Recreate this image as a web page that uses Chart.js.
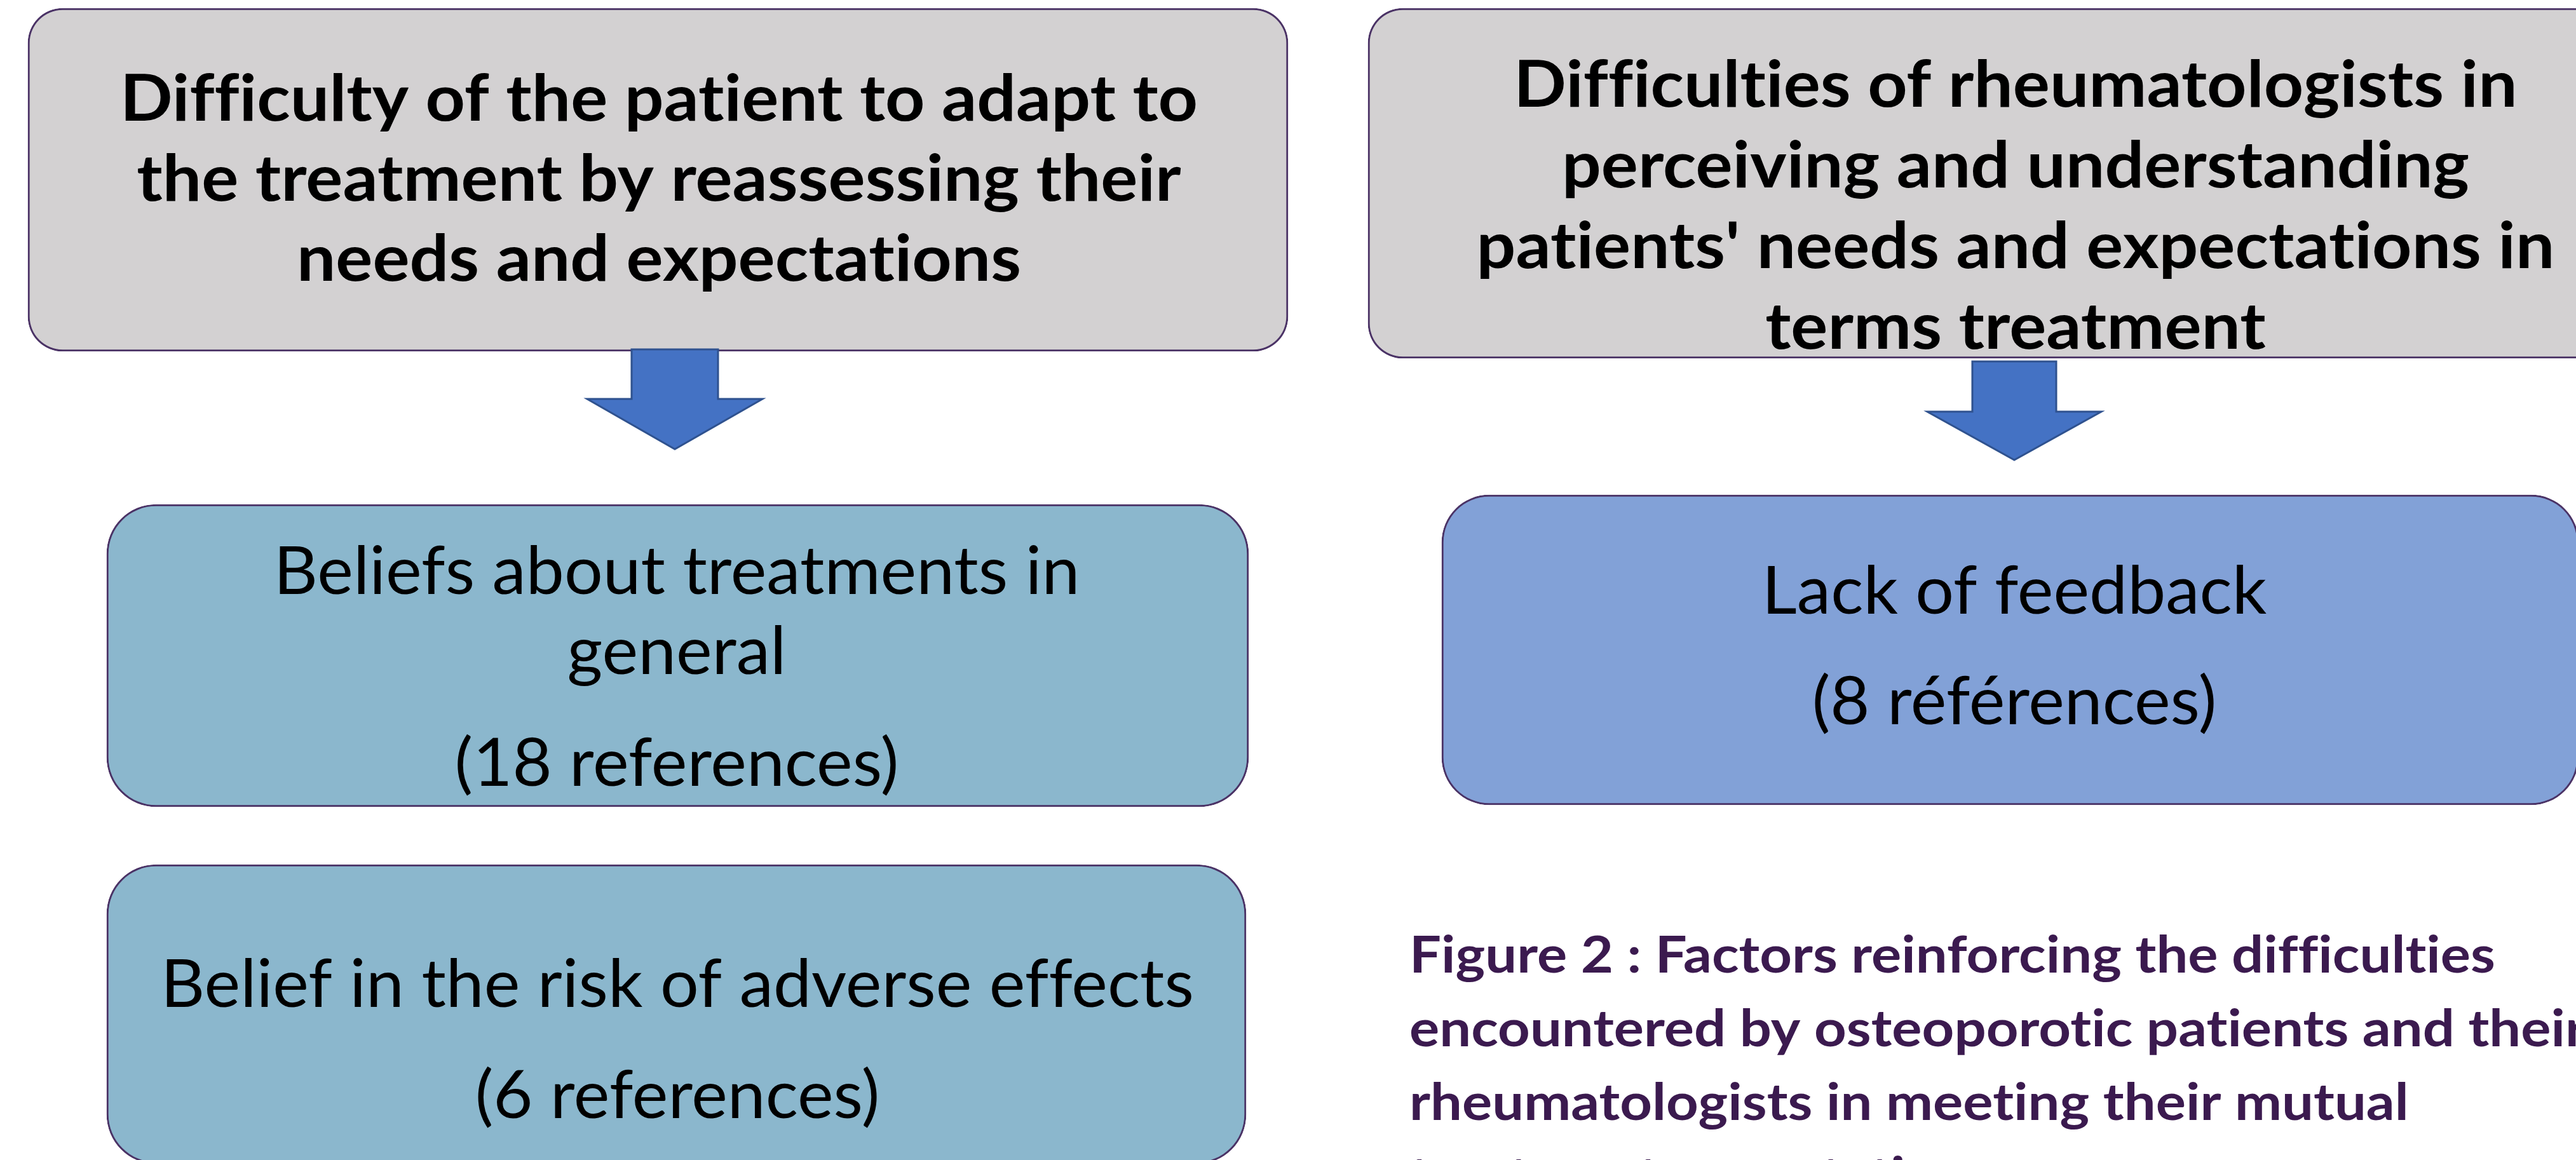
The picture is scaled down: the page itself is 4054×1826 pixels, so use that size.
<!DOCTYPE html>
<html>
<head>
<meta charset="utf-8">
<script src="https://cdn.jsdelivr.net/npm/chart.js@4.4.1/dist/chart.umd.min.js"></script>
<style>
body{margin:0;background:#fff;overflow:hidden}
canvas{display:block}
</style>
</head>
<body>
<canvas id="flowChart" width="4054" height="1826"></canvas>
<script>

const headingLines=[
["Difficulty of the patient to adapt to","the treatment by reassessing their","needs and expectations"],
["Difficulties of rheumatologists in","perceiving and understanding","patients' needs and expectations in","terms treatment"]
]

const factorLines=[
["Beliefs about treatments in","general"],
["Belief in the risk of adverse effects"],
["Lack of feedback"]
]

const referenceCounts=[18,6,8]
const referenceWords=["references","references","références"]

const captionLines=[
"Figure 2 : Factors reinforcing the difficulties",
"encountered by osteoporotic patients and their",
"rheumatologists in meeting their mutual",
"treatment expectations"
]



const GRAY="#D3D1D2"
const TEAL="#8BB7CD"
const BLUE="#82A1D7"
const EDGE="#4B3366"

// boxes: [x0,x1,top,bottom,fill,radius]
const boxes=[
[44,2027,13,553,GRAY,55],
[2153,4187,13,564,GRAY,55],
[168,1965,794,1270,TEAL,78],
[168,1961,1361,1832,TEAL,78],
[2269,4058,779,1267,BLUE,75]
]

// text blocks per box: center x, baselines
const textLayout=[
{cx:1037,base:[190,316,442],bold:true},
{cx:3172,base:[168,295,422,549],bold:true},
{cx:1065,base:[935,1061,1237]},
{cx:1066,base:[1585,1760]},
{cx:3170,base:[966,1140]}
]

const boxTexts=[
headingLines[0],
headingLines[1],
factorLines[0].concat("("+referenceCounts[0]+" "+referenceWords[0]+")"),
factorLines[1].concat("("+referenceCounts[1]+" "+referenceWords[1]+")"),
factorLines[2].concat("("+referenceCounts[2]+" "+referenceWords[2]+")")
]

// arrows: center x, shaft half width, head half width, shaft top, head top, tip
const arrows=[
[1062,68,138,550,628,707],
[3170,66,137,569,648,724]
]

const datasets=boxes.map(b=>({
data:[{x:[b[0],b[1]],y:(b[2]+b[3])/2}],
barThickness:b[3]-b[2],
backgroundColor:b[4],
borderColor:EDGE,
borderWidth:3,
borderRadius:b[5],
borderSkipped:false,
grouped:false
}))

const squeeze={}

function fitSqueeze(ctx,font,text,target){
ctx.font=font
return target/ctx.measureText(text).width
}

const REG="104px Lato"
const BOLD="bold 102px Lato"
const CAP="bold 81px Lato"

const diagramPlugin={
id:"diagram",
afterDatasetsDraw(chart){
const ctx=chart.ctx
const xs=chart.scales.x
const ys=chart.scales.y

// tiny spacing keeps Lato from joining "ti" / "ffi"
ctx.letterSpacing="0.01px"

if(!squeeze.reg){
squeeze.reg=fitSqueeze(ctx,REG,"Belief in the risk of adverse effects",1626)
squeeze.bold=fitSqueeze(ctx,BOLD,"Difficulty of the patient to adapt to",1696)
squeeze.cap=fitSqueeze(ctx,CAP,"Figure 2 : Factors reinforcing the difficulties",1709)
}

arrows.forEach(a=>{
const cx=a[0]
ctx.save()
ctx.beginPath()
ctx.moveTo(xs.getPixelForValue(cx-a[1]),ys.getPixelForValue(a[3]))
ctx.lineTo(xs.getPixelForValue(cx+a[1]),ys.getPixelForValue(a[3]))
ctx.lineTo(xs.getPixelForValue(cx+a[1]),ys.getPixelForValue(a[4]))
ctx.lineTo(xs.getPixelForValue(cx+a[2]),ys.getPixelForValue(a[4]))
ctx.lineTo(xs.getPixelForValue(cx),ys.getPixelForValue(a[5]))
ctx.lineTo(xs.getPixelForValue(cx-a[2]),ys.getPixelForValue(a[4]))
ctx.lineTo(xs.getPixelForValue(cx-a[1]),ys.getPixelForValue(a[4]))
ctx.closePath()
ctx.fillStyle="#4472C4"
ctx.fill()
ctx.lineWidth=3
ctx.strokeStyle="#2F528F"
ctx.lineJoin="miter"
ctx.stroke()
ctx.restore()
})

ctx.save()
ctx.fillStyle="#000"
ctx.textAlign="center"
ctx.textBaseline="alphabetic"
boxTexts.forEach((lines,i)=>{
const t=textLayout[i]
ctx.font=t.bold?BOLD:REG
const sq=t.bold?squeeze.bold:squeeze.reg
lines.forEach((line,j)=>{
ctx.save()
ctx.translate(xs.getPixelForValue(t.cx),ys.getPixelForValue(t.base[j]))
ctx.scale(sq,1)
ctx.fillText(line,0,0)
ctx.restore()
})
})

ctx.textAlign="left"
ctx.font=CAP
ctx.fillStyle="#3B1A4F"
captionLines.forEach((line,j)=>{
ctx.save()
ctx.translate(xs.getPixelForValue(2218),ys.getPixelForValue(1531+j*116))
ctx.scale(squeeze.cap,1)
ctx.fillText(line,0,0)
ctx.restore()
})
ctx.restore()
ctx.letterSpacing="0px"
}
}

new Chart(document.getElementById("flowChart"),{
type:"bar",
data:{labels:["A"],datasets:datasets},
options:{
indexAxis:"y",
responsive:false,
devicePixelRatio:1,
animation:false,
layout:{padding:0},
scales:{
x:{type:"linear",min:0,max:4054,display:false},
y:{type:"linear",min:0,max:1826,reverse:true,offset:false,display:false}
},
plugins:{legend:{display:false},tooltip:{enabled:false}}
},
plugins:[diagramPlugin]
})

</script>
</body>
</html>
